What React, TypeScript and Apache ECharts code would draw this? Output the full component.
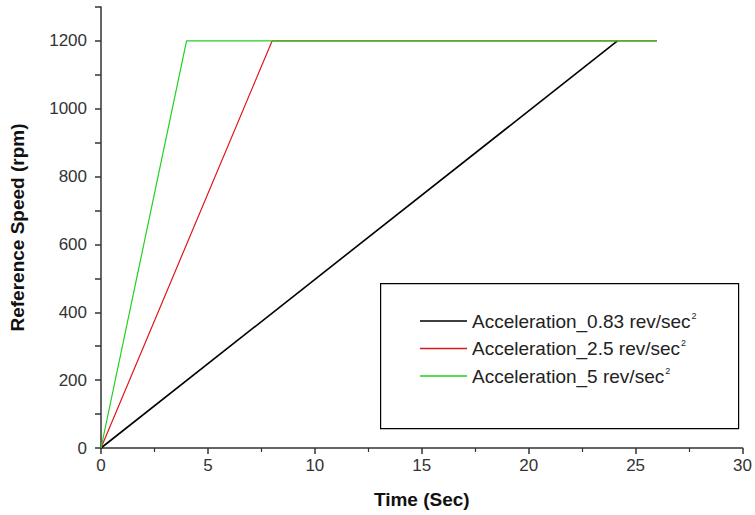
import React, { useEffect, useRef } from "react";
import * as echarts from "echarts";

const seriesNames = ["Acceleration_0.83 rev/sec", "Acceleration_2.5 rev/sec", "Acceleration_5 rev/sec"];
const seriesColors = ["#000000", "#e0161b", "#22d022"];
const blackData: [number, number][] = [[0, 0], [24.15, 1200]];
const redData: [number, number][] = [[0, 0], [8, 1200], [26, 1200]];
const greenData: [number, number][] = [[0, 0], [4, 1200], [26, 1200]];
const xTicks = { min: 0, max: 30, interval: 5 };
const yTicks = { min: 0, max: 1300, interval: 100 };

export default function App() {
  const ref = useRef<HTMLDivElement>(null);
  useEffect(() => {
    if (!ref.current) return;
    const chart = echarts.init(ref.current, undefined, { renderer: "svg" });
    const axisColor = "#333333";
    const font = "Liberation Sans, Arial, sans-serif";
    chart.setOption({
      animation: false,
      backgroundColor: "#ffffff",
      grid: { left: 101, right: 7, top: 7, bottom: 67 },
      xAxis: {
        type: "value",
        min: xTicks.min,
        max: xTicks.max,
        interval: xTicks.interval,
        name: "Time (Sec)",
        nameLocation: "middle",
        nameGap: 42,
        nameTextStyle: { fontFamily: font, fontSize: 19, fontWeight: "bold", color: "#111" },
        axisLine: { show: true, lineStyle: { color: axisColor, width: 1.5 } },
        axisTick: { show: true, inside: false, length: 6, lineStyle: { color: axisColor, width: 1.5 } },
        minorTick: { show: true, splitNumber: 2, length: 4, lineStyle: { color: axisColor, width: 1.2 } },
        axisLabel: { fontFamily: font, fontSize: 17, color: "#333", margin: 9 },
        splitLine: { show: false },
      },
      yAxis: {
        type: "value",
        min: yTicks.min,
        max: yTicks.max,
        interval: yTicks.interval,
        name: "Reference Speed (rpm)",
        nameLocation: "middle",
        nameGap: 74,
        nameTextStyle: { fontFamily: font, fontSize: 19, fontWeight: "bold", color: "#111" },
        axisLine: { show: true, lineStyle: { color: axisColor, width: 1.5 } },
        axisTick: {
          show: true,
          inside: false,
          length: 6,
          lineStyle: { color: axisColor, width: 1.5 },
        },
        axisLabel: {
          fontFamily: font,
          fontSize: 17,
          color: "#333",
          margin: 14,
          formatter: (v: number) => (v % 200 === 0 && v <= 1200 ? String(v) : ""),
        },
        splitLine: { show: false },
      },
      legend: {
        orient: "vertical",
        left: 415,
        top: 306,
        itemWidth: 47,
        itemHeight: 1.3,
        itemGap: 8,
        icon: "rect",
        data: seriesNames,
        formatter: (name: string) => `{a|${name}}{s|2}`,
        textStyle: {
          color: "#222",
          fontFamily: font,
          fontSize: 19,
          rich: {
            a: { fontSize: 19, fontFamily: font, color: "#222", lineHeight: 20 },
            s: { fontSize: 9, fontFamily: font, color: "#222", verticalAlign: "top", lineHeight: 9, padding: [0, 0, 0, 1] },
          },
        },
      },
      graphic: [
        {
          type: "rect",
          left: 380,
          top: 283,
          shape: { width: 358, height: 145 },
          style: { fill: "transparent", stroke: "#000", lineWidth: 1.2 },
          z: 10,
        },
      ],
      series: [
        { name: seriesNames[0], type: "line", data: blackData, symbol: "none", lineStyle: { color: seriesColors[0], width: 1.6 }, itemStyle: { color: seriesColors[0] } },
        { name: seriesNames[1], type: "line", data: redData, symbol: "none", lineStyle: { color: seriesColors[1], width: 1.2 }, itemStyle: { color: seriesColors[1] } },
        { name: seriesNames[2], type: "line", data: greenData, symbol: "none", lineStyle: { color: seriesColors[2], width: 1.2 }, itemStyle: { color: seriesColors[2] } },
      ],
    });
    return () => chart.dispose();
  }, []);
  return <div ref={ref} style={{ width: 755, height: 515, position: "absolute", left: 0, top: 0 }} />;
}
